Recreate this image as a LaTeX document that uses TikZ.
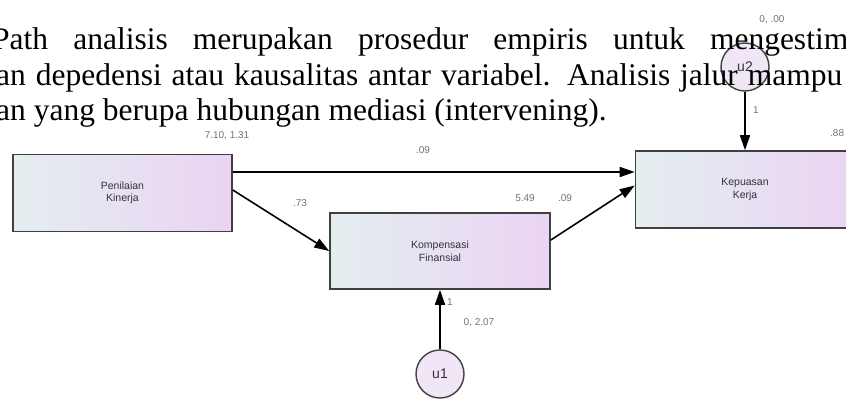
\documentclass[tikz,border=0pt]{standalone}
\usepackage{fontspec}
\setmainfont{Liberation Serif}
\newfontfamily\amosfont{Liberation Sans}
\usetikzlibrary{arrows.meta}

\definecolor{boxleft}{HTML}{E4EEF0}
\definecolor{boxright}{HTML}{EAD3F3}
\definecolor{errfill}{HTML}{F1E6F5}
\definecolor{labeltext}{HTML}{35313F}

\begin{document}
\begin{tikzpicture}[x=1pt,y=-1pt,
  varbox/.style={draw=black!75, line width=1.6pt, left color=boxleft,
    right color=boxright, minimum width=219pt, minimum height=77pt,
    inner sep=0pt, align=center, text=labeltext,
    font=\amosfont\fontsize{10.5}{12.5}\selectfont},
  errcirc/.style={circle, draw=black!75, line width=1.4pt, fill=errfill,
    minimum size=48pt, inner sep=0pt, text=labeltext,
    font=\amosfont\fontsize{14}{16}\selectfont},
  effect/.style={-{Triangle[length=15pt,width=10pt]}, line width=1.6pt},
  est/.style={inner sep=0pt, text=black!55,
    font=\amosfont\fontsize{10}{12}\selectfont},
  para/.style={inner sep=0pt, anchor=base west,
    font=\fontsize{31.5}{36}\selectfont}]
  \useasboundingbox (0,0) rectangle (846,402);
  \clip (0,0) rectangle (846,402);

  \node[varbox] (pk) at (122.5,193) {Penilaian\\Kinerja};
  \node[varbox, minimum width=220pt, minimum height=76pt] (kf) at (440,251)
    {Kompensasi\\Finansial};
  \node[varbox] (kk) at (745,189.5) {Kepuasan\\Kerja};

  \node[errcirc] (u1) at (440,374) {u1};
  \node[errcirc] (u2) at (745,67) {u2};

  \draw[effect] ([yshift=21pt]pk.east) -- ([yshift=17.5pt]kk.west);
  \draw[effect] ([yshift=3pt]pk.east) -- (kf.west);
  \draw[effect] ([yshift=11pt]kf.east) -- ([yshift=4pt]kk.west);
  \draw[effect] (u1) -- (kf.south);
  \draw[effect] (u2) -- (kk.north);

  \node[est] (varpk) at (227,136) {7.10, 1.31};
  \node[est] (pkkk) at (423,150) {.09};
  \node[est] (pkkf) at (300,203) {.73};
  \node[est] (intkf) at (525,198) {5.49};
  \node[est] (kfkk) at (565,198) {.09};
  \node[est, anchor=west] (rkk) at (830,133) {.88};
  \node[est] (varu2) at (772,20) {0, .00};
  \node[est] (wu2) at (756,110) {1};
  \node[est] (wu1) at (450,302) {1};
  \node[est] (varu1) at (479,323) {0, 2.07};

  \node[para] (line1) at (-8,49)
    {\makebox[856pt][s]{Path analisis merupakan prosedur empiris untuk mengestim}};
  \node[para] (line2) at (-4,85)
    {\makebox[846pt][s]{an depedensi atau kausalitas antar variabel. Analisis jalur mampu}};
  \node[para] (line3) at (-4,120)
    {an yang berupa hubungan mediasi (intervening).};
\end{tikzpicture}
\end{document}
